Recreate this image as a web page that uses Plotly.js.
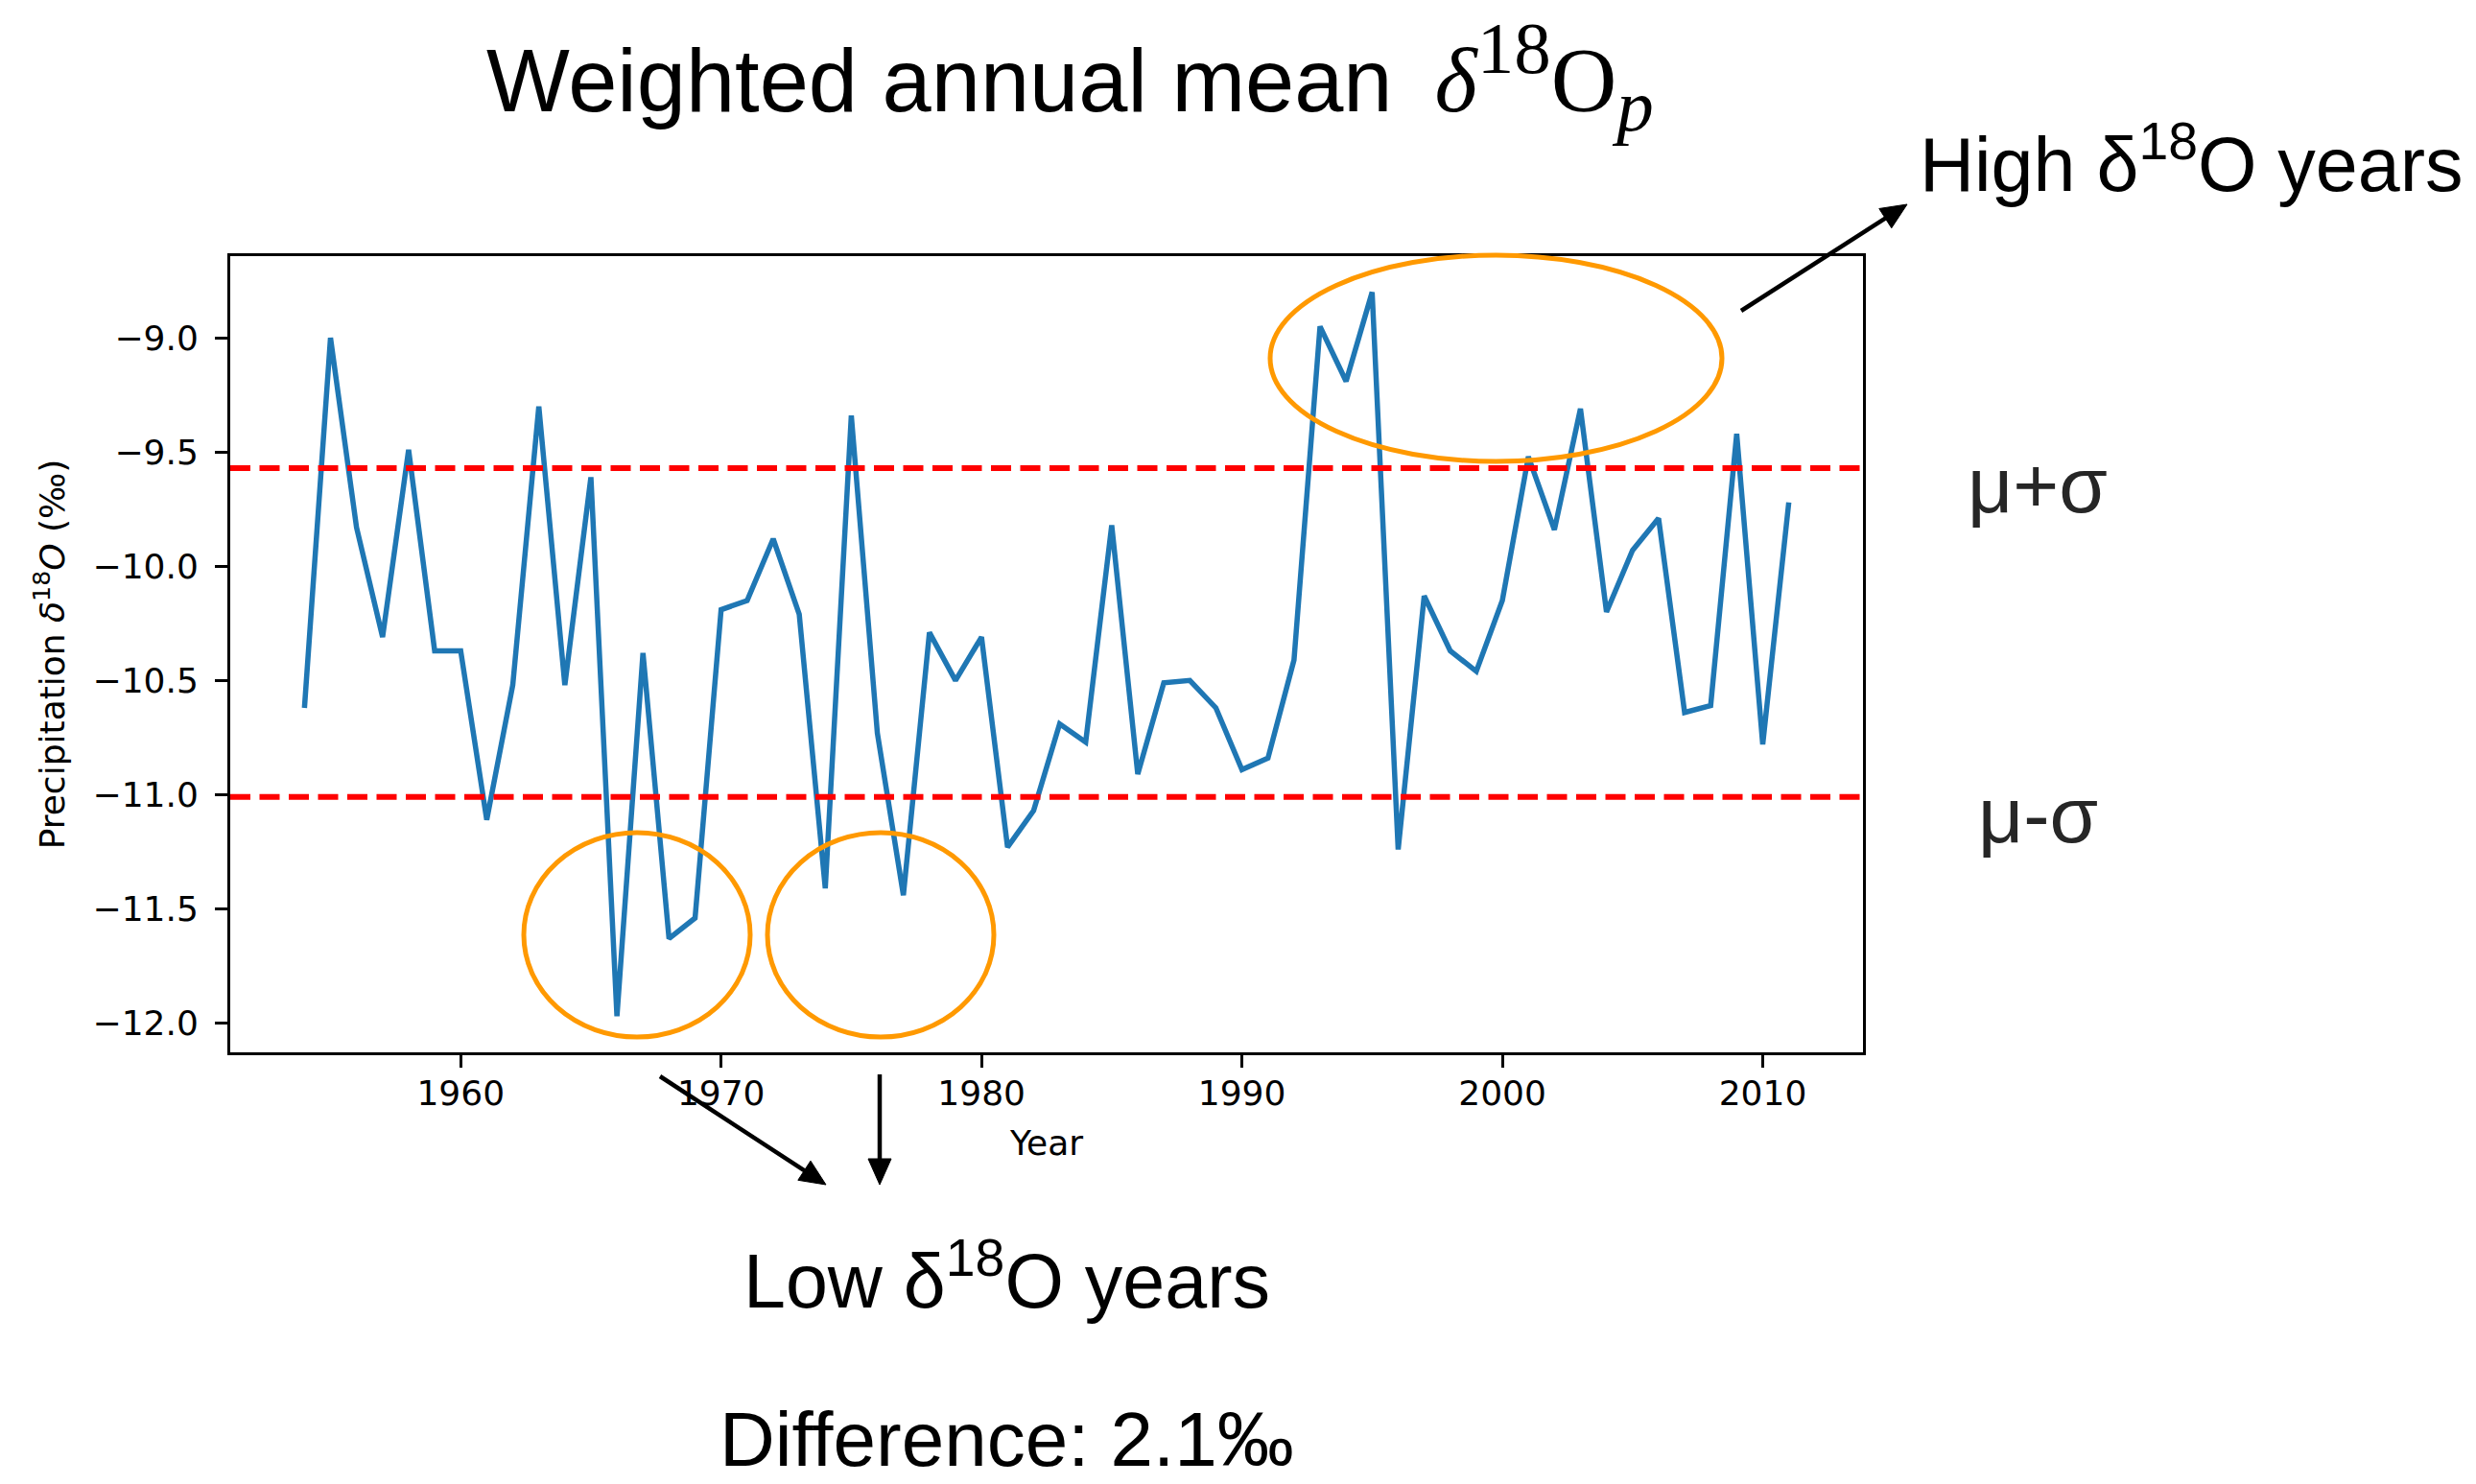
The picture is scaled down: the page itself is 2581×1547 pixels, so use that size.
<!DOCTYPE html>
<html>
<head>
<meta charset="utf-8">
<script src="https://cdn.plot.ly/plotly-3.0.1.min.js"></script>
<style>
html,body{margin:0;padding:0;background:#ffffff;}
#chart{width:2581px;height:1547px;}
</style>
</head>
<body>
<div id="chart"></div>
<script>
// ---- data ----
const years = [1954,1955,1956,1957,1958,1959,1960,1961,1962,1963,1964,1965,1966,1967,1968,1969,
  1970,1971,1972,1973,1974,1975,1976,1977,1978,1979,1980,1981,1982,1983,1984,1985,1986,1987,1988,1989,
  1990,1991,1992,1993,1994,1995,1996,1997,1998,1999,2000,2001,2002,2003,2004,2005,2006,2007,2008,2009,
  2010,2011];
const d18O = [-10.62,-9.00,-9.83,-10.31,-9.49,-10.37,-10.37,-11.11,-10.52,-9.30,-10.52,-9.61,-11.97,-10.38,-11.63,-11.54,
  -10.19,-10.15,-9.88,-10.21,-11.41,-9.34,-10.73,-11.44,-10.29,-10.50,-10.31,-11.23,-11.07,-10.69,-10.77,-9.82,-10.91,-10.51,-10.50,-10.62,
  -10.89,-10.84,-10.41,-8.95,-9.19,-8.80,-11.24,-10.13,-10.37,-10.46,-10.15,-9.52,-9.84,-9.31,-10.20,-9.93,-9.79,-10.64,-10.61,-9.42,
  -10.78,-9.72];
const muPlusSigma = -9.57;
const muMinusSigma = -11.01;
const xTickVals = [1960,1970,1980,1990,2000,2010];
const yTickVals = [-12.0,-11.5,-11.0,-10.5,-10.0,-9.5,-9.0];

// ---- layout geometry ----
const W = 2581, H = 1547;
const PL = 240, PR = 1942, PT = 267, PB = 1097;
const fx = px => (px - PL) / (PR - PL);
const fy = py => (PB - py) / (PB - PT);

const axisFont = {family: 'DejaVu Sans', size: 36, color: '#000000'};
const sansBig = {family: 'Liberation Sans, Arial, sans-serif', size: 79, color: '#000000'};
const orange = '#ff9900';

const trace = {
  type: 'scatter', mode: 'lines',
  x: years, y: d18O,
  line: {color: '#1f77b4', width: 5.5},
  hoverinfo: 'x+y'
};

const ellipse = (x0, x1, y0, y1) => ({
  type: 'circle', xref: 'paper', yref: 'paper',
  x0: fx(x0), x1: fx(x1), y0: fy(y1), y1: fy(y0),
  line: {color: orange, width: 5}, layer: 'above'
});

const hline = v => ({
  type: 'line', xref: 'paper', yref: 'y', x0: 0, x1: 1, y0: v, y1: v,
  line: {color: '#ff0000', width: 6, dash: '21px,9.5px'}, layer: 'above'
});

// arrow = line shape + filled triangular head (pixel geometry -> paper coords)
const arrowShapes = (tx, ty, hx, hy) => {
  const dx = hx - tx, dy = hy - ty, len = Math.hypot(dx, dy);
  const ux = dx / len, uy = dy / len, nx = -uy, ny = ux;
  const headL = 27, headW = 12;
  const bx = hx - ux * headL, by = hy - uy * headL;
  const lx = hx - ux * (headL - 4), ly = hy - uy * (headL - 4);
  const p = (x, y) => fx(x).toFixed(5) + ',' + fy(y).toFixed(5);
  return [
    {type: 'line', xref: 'paper', yref: 'paper', x0: fx(tx), y0: fy(ty), x1: fx(lx), y1: fy(ly),
     line: {color: '#000000', width: 4.5}, layer: 'above'},
    {type: 'path', xref: 'paper', yref: 'paper',
     path: 'M' + p(hx, hy) + ' L' + p(bx + nx * headW, by + ny * headW) + ' L' + p(bx - nx * headW, by - ny * headW) + ' Z',
     fillcolor: '#000000', line: {color: '#000000', width: 1}, layer: 'above'}
  ];
};

const label = (text, cx, cy, font) => ({
  xref: 'paper', yref: 'paper', x: fx(cx), y: fy(cy),
  xanchor: 'center', yanchor: 'middle', text: text, showarrow: false, font: font
});

const layout = {
  width: W, height: H,
  paper_bgcolor: '#ffffff', plot_bgcolor: '#ffffff',
  showlegend: false,
  margin: {l: PL, r: W - PR, t: PT, b: H - PB, pad: 0},
  title: {
    text: 'Weighted annual mean \u2009<span style="font-family:Liberation Serif;font-size:95px"><i>δ</i><sup><span style="font-size:77px">18</span></sup>O<sub><i><span style="font-size:77px">p</span></i></sub></span>',
    font: {family: 'Liberation Sans, Arial, sans-serif', size: 92, color: '#000000'},
    xref: 'container', yref: 'container', x: 507 / W, xanchor: 'left',
    y: 1 - 84 / H, yanchor: 'middle'
  },
  xaxis: {
    range: [1951.15, 2013.85],
    tickmode: 'array', tickvals: xTickVals, ticktext: xTickVals.map(String),
    ticks: 'outside', ticklen: 13, tickwidth: 3, tickcolor: '#000000',
    showline: true, linecolor: '#000000', linewidth: 3, mirror: true,
    showgrid: false, zeroline: false,
    tickfont: axisFont, ticklabelstandoff: -4,
    title: {text: 'Year', font: axisFont, standoff: 20}
  },
  yaxis: {
    range: [-12.128, -8.642],
    tickmode: 'array', tickvals: yTickVals, ticktext: yTickVals.map(v => '\u2212' + Math.abs(v).toFixed(1)),
    ticks: 'outside', ticklen: 13, tickwidth: 3, tickcolor: '#000000',
    showline: true, linecolor: '#000000', linewidth: 3, mirror: true,
    showgrid: false, zeroline: false,
    tickfont: axisFont, ticklabelstandoff: 10,
    title: {text: 'Precipitation <i>δ</i><sup>18</sup><i>O</i> (‰)', font: axisFont, standoff: 18}
  },
  shapes: [
    hline(muPlusSigma),
    hline(muMinusSigma),
    ellipse(546, 782, 868, 1081),
    ellipse(800, 1036, 868, 1081),
    ellipse(1324, 1795, 266, 481),
    ...arrowShapes(1815, 324, 1988, 213),
    ...arrowShapes(688, 1122, 861, 1235),
    ...arrowShapes(917, 1120, 917, 1235)
  ],
  annotations: [
    label('High δ<sup>18</sup>O years', 2284, 166, sansBig),
    label('Low δ<sup>18</sup>O years', 1049, 1330, sansBig),
    label('Difference: 2.1‰', 1049, 1500, {family: 'Liberation Sans, Arial, sans-serif', size: 80, color: '#000000'}),
    label('μ+σ', 2124, 505, {family: 'Liberation Sans, Arial, sans-serif', size: 82, color: '#262626'}),
    label('μ-σ', 2124, 849, {family: 'Liberation Sans, Arial, sans-serif', size: 82, color: '#262626'})
  ]
};

Plotly.newPlot('chart', [trace], layout, {staticPlot: true, displayModeBar: false});
</script>
</body>
</html>
